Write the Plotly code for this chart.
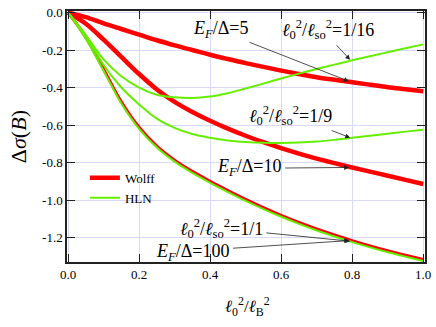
import plotly.graph_objects as go

# x axis: l0^2 / lB^2
x = [0.0, 0.05, 0.1, 0.15, 0.2, 0.25, 0.3, 0.35, 0.4, 0.45, 0.5,
     0.55, 0.6, 0.65, 0.7, 0.75, 0.8, 0.85, 0.9, 0.95, 1.0]

# Wolff curves (red)
wolff_ef5 = [0.0, -0.025, -0.058, -0.088, -0.118, -0.148, -0.175, -0.200, -0.225, -0.248, -0.270,
             -0.290, -0.310, -0.328, -0.345, -0.359, -0.372, -0.385, -0.398, -0.409, -0.420]
wolff_ef10 = [0.0, -0.060, -0.145, -0.237, -0.328, -0.410, -0.476, -0.530, -0.577, -0.619, -0.657,
              -0.691, -0.723, -0.752, -0.779, -0.803, -0.826, -0.848, -0.870, -0.892, -0.914]
wolff_ef100 = [0.0, -0.133, -0.302, -0.476, -0.612, -0.712, -0.787, -0.847, -0.900, -0.949, -0.996,
               -1.040, -1.081, -1.119, -1.154, -1.186, -1.216, -1.244, -1.270, -1.294, -1.317]

# HLN curves (green)
hln_16 = [0.0, -0.120, -0.250, -0.340, -0.400, -0.438, -0.452, -0.456, -0.448, -0.430, -0.405,
          -0.379, -0.352, -0.326, -0.301, -0.278, -0.255, -0.233, -0.212, -0.191, -0.170]
hln_9 = [0.0, -0.125, -0.280, -0.400, -0.490, -0.566, -0.615, -0.648, -0.668, -0.682, -0.690,
         -0.694, -0.695, -0.693, -0.688, -0.679, -0.668, -0.657, -0.646, -0.635, -0.625]
hln_1 = [0.0, -0.140, -0.310, -0.485, -0.620, -0.720, -0.795, -0.855, -0.908, -0.957, -1.004,
         -1.048, -1.089, -1.127, -1.162, -1.194, -1.224, -1.252, -1.278, -1.302, -1.325]

xticks = [0.0, 0.2, 0.4, 0.6, 0.8, 1.0]
xticktext = ["0.0", "0.2", "0.4", "0.6", "0.8", "1.0"]
yticks = [0.0, -0.2, -0.4, -0.6, -0.8, -1.0, -1.2]
yticktext = ["0.0", "-0.2", "-0.4", "-0.6", "-0.8", "-1.0", "-1.2"]

RED = "#ff0000"
GREEN = "#66ee00"
FONT = "Liberation Serif, Times New Roman, serif"

fig = go.Figure()

for i, yy in enumerate([wolff_ef5, wolff_ef10]):
    fig.add_trace(go.Scatter(x=x, y=yy, mode="lines", line=dict(color=RED, width=4.5, shape="spline"),
                             name="Wolff", legendgroup="w", showlegend=(i == 0)))
fig.add_trace(go.Scatter(x=x, y=wolff_ef100, mode="lines", line=dict(color=RED, width=3, shape="spline"),
                         name="Wolff", legendgroup="w", showlegend=False))
for i, yy in enumerate([hln_16, hln_9, hln_1]):
    fig.add_trace(go.Scatter(x=x, y=yy, mode="lines", line=dict(color=GREEN, width=2, shape="spline"),
                             name="HLN", legendgroup="h", showlegend=(i == 0)))

L = "<i>ℓ</i><sub>0</sub><sup>2</sup>/<i>ℓ</i><sub>so</sub><sup>2</sup>"
EF = "<i>E</i><sub><i>F</i></sub>/Δ="

# labels: (text, x, y, xanchor)
labels = [
    (EF + "5", 0.513, -0.088, "right"),
    (L + "=1/16", 0.596, -0.088, "left"),
    (L + "=1/9", 0.749, -0.547, "right"),
    (EF + "10", 0.604, -0.824, "right"),
    (L + "=1/1", 0.554, -1.153, "right"),
    (EF + "100", 0.46, -1.278, "right"),
]
for t, lx, ly, xa in labels:
    fig.add_annotation(x=lx, y=ly, text=t, showarrow=False, xanchor=xa, yanchor="middle",
                       font=dict(family=FONT, size=18, color="black"))

# arrows: (tail x, tail y, head x, head y)
arrows = [
    (0.507, -0.156, 0.79, -0.366),
    (0.752, -0.166, 0.794, -0.252),
    (0.738, -0.626, 0.794, -0.667),
    (0.607, -0.829, 0.791, -0.826),
    (0.554, -1.174, 0.794, -1.219),
    (0.46, -1.257, 0.791, -1.216),
]
for ax_, ay_, hx, hy in arrows:
    fig.add_annotation(x=hx, y=hy, ax=ax_, ay=ay_, axref="x", ayref="y", text="",
                       showarrow=True, arrowhead=2, arrowsize=1.2, arrowwidth=0.8, arrowcolor="#222222")

# axis titles
fig.add_annotation(xref="paper", yref="paper", x=-0.135, y=0.5, xanchor="center", yanchor="middle",
                   text="Δ<i>σ</i>(<i>B</i>)", textangle=-90, showarrow=False,
                   font=dict(family=FONT, size=22, color="black"))
fig.add_annotation(xref="paper", yref="paper", x=0.505, y=-0.178, xanchor="center", yanchor="middle",
                   text="<i>ℓ</i><sub>0</sub><sup>2</sup>/<i>ℓ</i><sub>B</sub><sup>2</sup>", showarrow=False,
                   font=dict(family=FONT, size=17, color="black"))

axis_common = dict(showline=True, linecolor="#222222", linewidth=1.5, mirror="ticks",
                   ticks="inside", ticklen=8, tickcolor="#222222", tickwidth=1.2,
                   showgrid=True, gridcolor="#d8d8fa", gridwidth=1, zeroline=False,
                   tickfont=dict(family=FONT, size=13, color="black"))
fig.update_xaxes(range=[-0.003, 1.005], tickvals=xticks, ticktext=xticktext, **axis_common)
fig.update_yaxes(range=[-1.33, 0.008], tickvals=yticks, ticktext=yticktext, **axis_common)

fig.update_layout(width=436, height=327, margin=dict(l=67, r=8, t=5, b=65),
                  font=dict(family=FONT, color="black"),
                  plot_bgcolor="white", paper_bgcolor="white",
                  legend=dict(x=0.05, y=0.395, xanchor="left", yanchor="top", bgcolor="rgba(0,0,0,0)",
                              font=dict(family=FONT, size=13, color="black"), tracegroupgap=0,
                              itemwidth=30))

# page body has a default 8px margin; drop it so the figure sits at the top-left corner
fig.write_html("out.html", config={"displayModeBar": False},
               post_script="document.body.style.margin='0px';")
